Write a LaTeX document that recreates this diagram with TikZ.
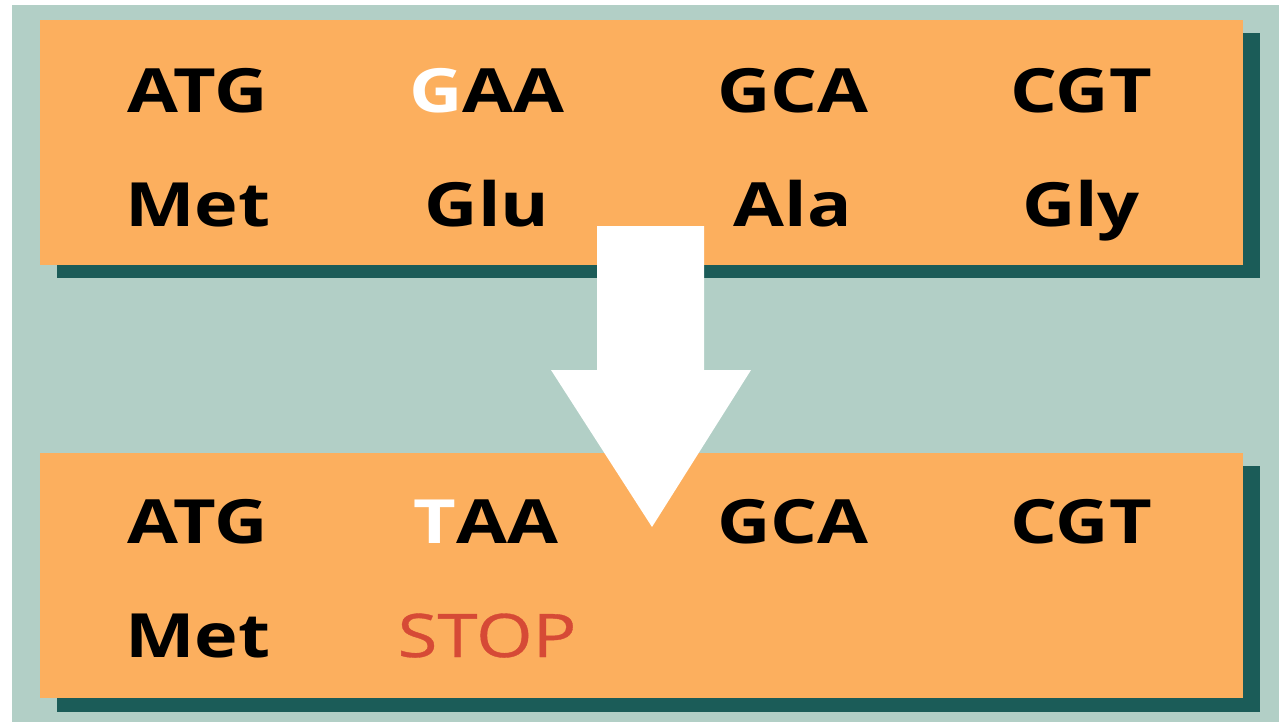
\documentclass[tikz,border=0pt]{standalone}
\usepackage{fontspec}
\setmainfont{Open Sans}[FakeStretch=1.21]
\begin{document}
\begin{tikzpicture}[x=1pt,y=-1pt,
  panel/.style={fill=codon},
  panelshadow/.style={fill=shade},
  codon/.style={anchor=base,font=\fontsize{61}{61}\selectfont\bfseries,text=black,inner sep=0pt},
  stoplabel/.style={anchor=base,font=\fontsize{60}{60}\selectfont\addfontfeature{FakeBold=0.6},text=stopred,inner sep=0pt},
  bigarrow/.style={fill=white}]
\definecolor{backdrop}{HTML}{B2CFC6}
\definecolor{codon}{HTML}{FCAF5E}
\definecolor{shade}{HTML}{1B5C58}
\definecolor{stopred}{HTML}{D64A36}
% canvas
\fill[white] (0,0) rectangle (1279,722);
\useasboundingbox (0,0) rectangle (1279,722);
\fill[backdrop] (12,5) rectangle (1279,722);
% upper panel: original sequence
\fill[panelshadow] (57,33) rectangle (1260,278);
\fill[panel] (40,20) rectangle (1243,265);
% lower panel: mutated sequence
\fill[panelshadow] (57,466) rectangle (1260,712);
\fill[panel] (40,453) rectangle (1243,698);
% codons and amino acids, upper panel
\node[codon] (a1) at (198,113) {ATG};
\node[codon] (a2) at (487,113) {{\color{white}G}AA};
\node[codon] (a3) at (793,113) {GCA};
\node[codon] (a4) at (1081,113) {CGT};
\node[codon] (b1) at (198,226) {Met};
\node[codon] (b2) at (487,226) {Glu};
\node[codon] (b3) at (793,226) {Ala};
\node[codon] (b4) at (1081,226) {Gly};
% codons and amino acids, lower panel
\node[codon] (c1) at (198,543) {ATG};
\node[codon] (c2) at (486,543) {{\color{white}T}AA};
\node[codon] (c3) at (793,543) {GCA};
\node[codon] (c4) at (1081,543) {CGT};
\node[codon] (d1) at (198,657) {Met};
\node[stoplabel] (d2) at (487,657) {STOP};
% mutation arrow
\fill[bigarrow] (597,226) -- (704,226) -- (704,370) -- (751,370) -- (652,527)
  -- (551,370) -- (597,370) -- cycle;
\end{tikzpicture}
\end{document}
